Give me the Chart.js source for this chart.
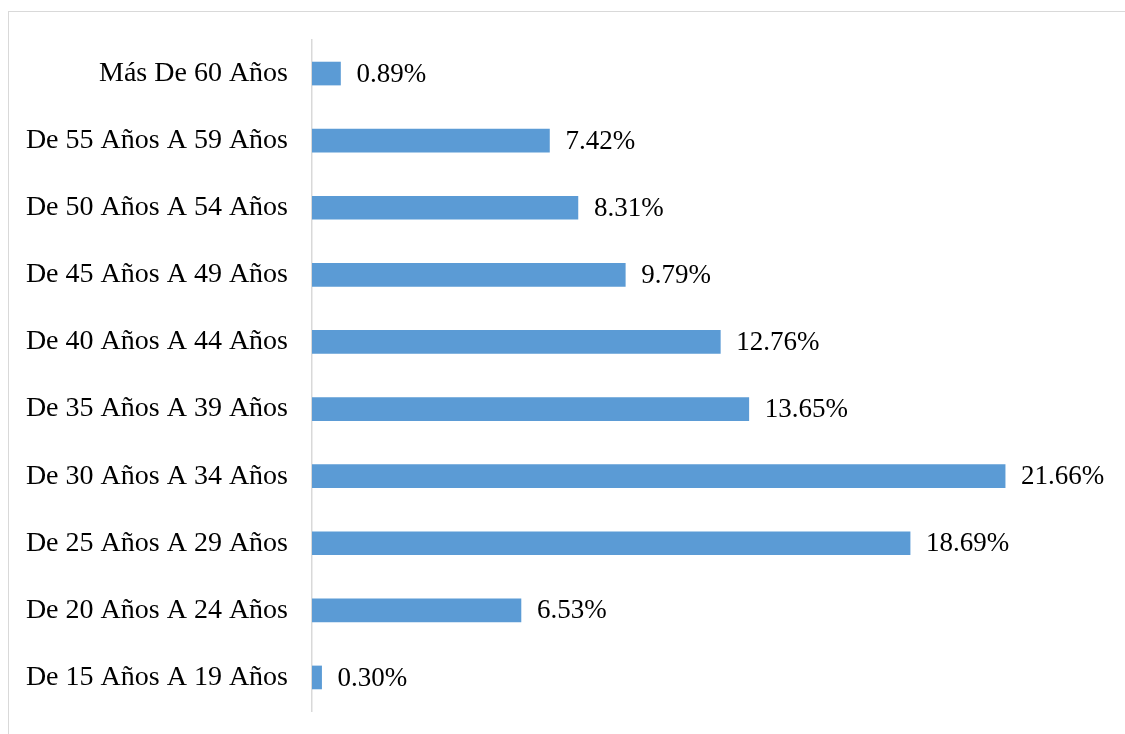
<!DOCTYPE html>
<html>
<head>
<meta charset="utf-8">
<script src="https://cdn.jsdelivr.net/npm/chart.js@4/dist/chart.umd.min.js"></script>
<style>
  html, body { margin: 0; padding: 0; background: #fff; }
  #wrap { position: relative; width: 1125px; height: 734px; overflow: hidden; }
  #frame { position: absolute; left: 8px; top: 11px; width: 1200px; height: 800px;
           border-left: 1.5px solid #d9d9d9; border-top: 1.5px solid #d9d9d9; }
  #myBarChart { position: absolute; left: 0; top: 0; }
</style>
</head>
<body>
<div id="wrap">
  <div id="frame"></div>
  <canvas id="myBarChart" width="1125" height="734"></canvas>
</div>
<script>
// age groups, top to bottom
var categories = [
  'Más De 60 Años',
  'De 55 Años A 59 Años',
  'De 50 Años A 54 Años',
  'De 45 Años A 49 Años',
  'De 40 Años A 44 Años',
  'De 35 Años A 39 Años',
  'De 30 Años A 34 Años',
  'De 25 Años A 29 Años',
  'De 20 Años A 24 Años',
  'De 15 Años A 19 Años'
];
var percentages = [0.89, 7.42, 8.31, 9.79, 12.76, 13.65, 21.66, 18.69, 6.53, 0.30];

var serif = '"Liberation Serif", "Times New Roman", serif';

// value labels at the end of each bar
var barLabels = {
  id: 'barLabels',
  afterDatasetsDraw: function(chart) {
    var ctx = chart.ctx;
    var meta = chart.getDatasetMeta(0);
    ctx.save();
    ctx.font = '27px ' + serif;
    ctx.fillStyle = '#000';
    ctx.textAlign = 'left';
    ctx.textBaseline = 'middle';
    meta.data.forEach(function(bar, i) {
      ctx.fillText(percentages[i].toFixed(2) + '%', bar.x + 16, bar.y + 1);
    });
    ctx.restore();
  }
};

var ctxBar = document.getElementById('myBarChart').getContext('2d');
var myChart = new Chart(ctxBar, {
  type: 'bar',
  data: {
    labels: categories,
    datasets: [{
      data: percentages,
      backgroundColor: '#5b9bd5',
      barThickness: 23
    }]
  },
  options: {
    indexAxis: 'y',
    responsive: false,
    animation: false,
    layout: { padding: { top: 40, bottom: 23, right: 13, left: 0 } },
    plugins: {
      legend: { display: false },
      tooltip: { enabled: false }
    },
    scales: {
      x: {
        display: false,
        min: 0,
        max: 25
      },
      y: {
        afterFit: function(scale) {
          scale.width = 312;
          scale.paddingTop = 0;
          scale.paddingBottom = 0;
        },
        grid: { display: false, drawTicks: false },
        border: { display: true, color: '#d9d9d9', width: 1.5 },
        ticks: {
          padding: 24,
          color: '#000',
          font: { family: serif, size: 28 }
        }
      }
    }
  },
  plugins: [barLabels]
});
</script>
</body>
</html>
